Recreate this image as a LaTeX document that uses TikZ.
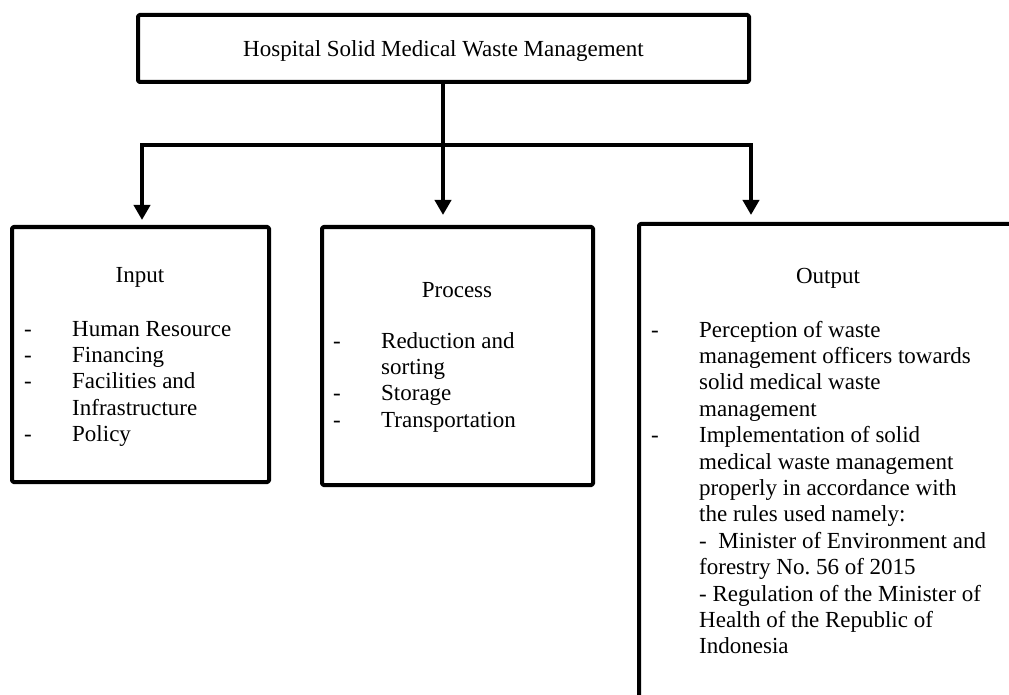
\documentclass[tikz,border=0pt]{standalone}
\usepackage{fontspec}
\setmainfont{Liberation Serif}
\usetikzlibrary{arrows.meta}
\tikzset{
  box/.style={draw, line width=4pt, rounded corners=1.5pt, inner sep=0pt, line join=round},
  txt/.style={font=\fontsize{23}{26.4}\selectfont, inner sep=0pt},
  conn/.style={line width=4pt, -{Triangle[width=16pt,length=15pt]}},
}
\newcommand\itm{\makebox[48pt][l]{-}}
\newcommand\ind{\hspace*{48pt}}
\frenchspacing
\begin{document}
\begin{tikzpicture}[x=1pt,y=-1pt]
\useasboundingbox (0,0) rectangle (1009,695);
\clip (0,0) rectangle (1009,695);
% boxes
\node[box, txt, minimum width=611pt, minimum height=67pt, text height=17pt, text depth=0pt] (top) at (443.5,48.5) {Hospital Solid Medical Waste Management};
\node[box, minimum width=257pt, minimum height=255pt] (inp) at (140.5,354.5) {};
\node[box, minimum width=271pt, minimum height=258pt] (proc) at (457.5,356) {};
\node[box, minimum width=480pt, minimum height=600pt] (out) at (879,524) {};
% connectors
\coordinate (cL) at (142,145);
\coordinate (cR) at (751,145);
\coordinate (tM) at (443,215);
\draw[line width=4pt, line cap=rect] (cL) -- (cR);
\draw[conn, shorten >=5pt] (cL) -- (cL |- inp.north);
\draw[conn, shorten >=7pt] (cR) -- (cR |- out.north);
\draw[conn, shorten >=10pt] (top.south -| tM) -- (tM |- proc.north);
% texts
\node[txt, anchor=base] (inT) at (140,282) {Input};
\node[txt, anchor=base west] (inL) at (24,336) {\begin{tabular}[t]{@{}l@{}}
\itm Human Resource\\
\itm Financing\\
\itm Facilities and\\
\ind Infrastructure\\
\itm Policy
\end{tabular}};
\node[txt, anchor=base] (prT) at (457,297) {Process};
\node[txt, anchor=base west] (prL) at (333,348) {\begin{tabular}[t]{@{}l@{}}
\itm Reduction and\\
\ind sorting\\
\itm Storage\\
\itm Transportation
\end{tabular}};
\node[txt, anchor=base] (ouT) at (828,283) {Output};
\node[txt, anchor=base west] (ouL) at (651,337) {\begin{tabular}[t]{@{}l@{}}
\itm Perception of waste\\
\ind management officers towards\\
\ind solid medical waste\\
\ind management\\
\itm Implementation of solid\\
\ind medical waste management\\
\ind properly in accordance with\\
\ind the rules used namely:\\
\ind -\ \ Minister of Environment and\\
\ind forestry No. 56 of 2015\\
\ind - Regulation of the Minister of\\
\ind Health of the Republic of\\
\ind Indonesia
\end{tabular}};
\end{tikzpicture}
\end{document}
